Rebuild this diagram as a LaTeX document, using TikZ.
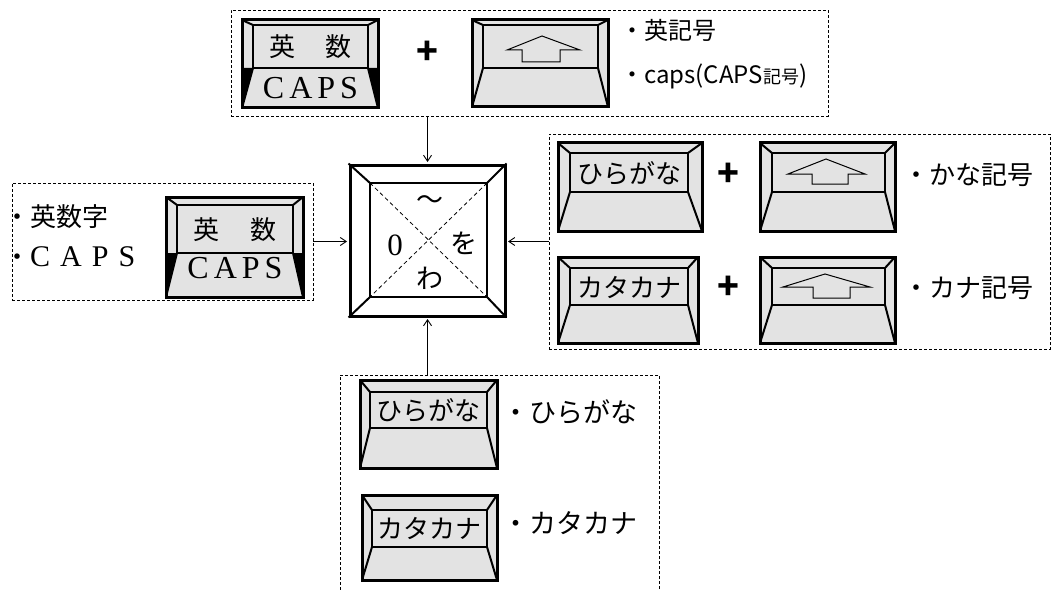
\documentclass[tikz,border=0pt]{standalone}
\usepackage{fontspec}
\setmainfont{Liberation Serif}
\newfontfamily\jp{Noto Sans CJK JP}
\usetikzlibrary{arrows.meta}
\tikzset{
  keyfill/.style={fill=black!11},
  keyouter/.style={line width=3pt, line join=miter},
  keyinner/.style={line width=2.4pt},
  keybevel/.style={line width=2pt},
  arrowline/.style={line width=1pt, line join=miter},
  dbox/.style={draw, dash pattern=on 3pt off 2pt, line width=0.9pt, inner sep=0},
  conn/.style={line width=0.9pt, -{Straight Barb[length=6pt,width=8pt]}, shorten >=1.5pt},
  lbl/.style={font=\jp\fontsize{26}{30}\selectfont, anchor=west, inner sep=0},
  toplbl/.style={font=\jp\fontsize{24}{28}\selectfont, anchor=west, inner sep=0},
  keytxt/.style={font=\jp\fontsize{26}{30}\selectfont, inner sep=0},
  capstxt/.style={font=\fontsize{32}{34}\selectfont, inner sep=0},
  plus/.style={font=\jp\bfseries\fontsize{36}{38}\selectfont, inner sep=0},
  centertxt/.style={font=\jp\fontsize{27}{30}\selectfont, inner sep=0}
}
\newcommand\keycap[8]{%
  \fill[keyfill] (#1,#2) rectangle (#3,#4);
  \draw[keybevel] (#1,#2) -- (#5,#6) (#3,#2) -- (#7,#6) (#5,#8) -- (#1,#4) (#7,#8) -- (#3,#4);
  \draw[keyinner] (#5,#6) rectangle (#7,#8);
  \draw[keyouter] (#1,#2) rectangle (#3,#4);
}
\newcommand\capsblack[8]{%
  \fill (#1,#8) -- (#5,#8) -- (#1,#4) -- cycle;
  \fill (#3,#8) -- (#7,#8) -- (#3,#4) -- cycle;
}
\newcommand\shiftarrow[8]{%
  \draw[arrowline] (#1,#2) -- (#3,#4) -- (#5,#2) -- (#7,#2) -- (#7,#8) -- (#6,#8) -- (#6,#2) -- cycle;
}
\begin{document}
\begin{tikzpicture}[x=1pt,y=-1pt]
\useasboundingbox (0,0) rectangle (1052,591);

% dashed group boxes
\node[dbox, minimum width=597pt, minimum height=106pt] (tbox) at (529.5,63) {};
\node[dbox, minimum width=301pt, minimum height=117pt] (lbox) at (162.5,241.5) {};
\node[dbox, minimum width=501pt, minimum height=215pt] (rbox) at (799.5,241.5) {};
\node[dbox, minimum width=319pt, minimum height=225pt] (bbox) at (499.5,487.5) {};

% center key
\node[draw, line width=3pt, minimum width=155pt, minimum height=151pt, inner sep=0] (ck) at (427.5,240.5) {};
\draw[line width=2.4pt] (370,183) rectangle (487,297);
\draw[keybevel] (ck.north west) -- (370,183) (ck.north east) -- (487,183)
                (ck.south west) -- (370,297) (ck.south east) -- (487,297);
\draw[line width=0.8pt, dash pattern=on 4pt off 3pt] (370,183) -- (487,297) (487,183) -- (370,297);
\node[centertxt] (tilde) at (430,203) {～};
\node[font=\fontsize{31}{34}\selectfont, inner sep=0] (zero) at (395,245) {0};
\node[centertxt] (wo) at (464,243) {を};
\node[centertxt] (wa) at (430,278) {わ};

% connectors
\draw[conn] (tbox.south -| ck.north) -- (ck.north);
\draw[conn] (lbox.east) -- (lbox.east -| ck.west);
\draw[conn] (rbox.west) -- (rbox.west -| ck.east);
\draw[conn] (bbox.north -| ck.south) -- (ck.south);

% ---- top group
\keycap{242}{20}{378}{108}{253}{25}{368}{68}
\capsblack{242}{20}{378}{108}{253}{25}{368}{68}
\draw[keyouter] (242,20) rectangle (378,108);
\node[keytxt] (t1a) at (310.5,47) {英\hspace{31pt}数};
\node[capstxt] (t1b) at (310.5,88) {C\kern5pt A\kern5pt P\kern5pt S};
\node[plus] (tplus) at (427,53) {+};
\keycap{472}{20}{608}{107}{483}{25}{598}{68}
\shiftarrow{507}{50}{542}{36}{580}{522}{560}{62}
\node[toplbl] (tl1) at (620,30) {・英記号};
\node[toplbl] (tl2) at (620,76) {・caps(CAPS{\fontsize{18}{20}\selectfont 記号})};

% ---- left group
\node[lbl] (ll1) at (4,217) {・英数字};
\node[lbl] (ll2) at (4,257) {・\fontspec{Liberation Serif}\fontsize{30}{32}\selectfont C\kern10pt A\kern10pt P\kern10pt S};
\keycap{166}{197}{303}{297}{177}{205}{293}{253}
\capsblack{166}{197}{303}{297}{177}{205}{293}{253}
\draw[keyouter] (166,197) rectangle (303,297);
\node[keytxt] (l1a) at (235,230) {英\hspace{31pt}数};
\node[capstxt] (l1b) at (235,268) {C\kern5pt A\kern5pt P\kern5pt S};

% ---- right group
\keycap{558}{143}{702}{231}{570}{153}{688}{192}
\node[keytxt] (r1a) at (629,173) {ひらがな};
\node[plus] (rplus1) at (728,175) {+};
\keycap{760}{143}{895}{231}{772}{153}{885}{192}
\shiftarrow{788}{174}{826}{159}{865}{812}{848}{184}
\node[lbl] (rl1) at (903,175) {・かな記号};

\keycap{558}{257}{698}{343}{570}{268}{688}{305}
\node[keytxt] (r2a) at (629,287) {カタカナ};
\node[plus] (rplus2) at (728,288) {+};
\keycap{760}{257}{895}{343}{772}{268}{885}{305}
\shiftarrow{783}{287}{825}{274}{870}{813}{850}{298}
\node[lbl] (rl2) at (903,288) {・カナ記号};

% ---- bottom group
\keycap{360}{380}{497}{468}{370}{392}{487}{428}
\node[keytxt] (b1a) at (428.5,410) {ひらがな};
\node[lbl, font=\jp\fontsize{27}{30}\selectfont] (bl1) at (502,412) {・ひらがな};
\keycap{362}{495}{497}{580}{372}{510}{487}{547}
\node[keytxt] (b2a) at (429.5,528) {カタカナ};
\node[lbl, font=\jp\fontsize{27}{30}\selectfont] (bl2) at (502,523) {・カタカナ};
\end{tikzpicture}
\end{document}
